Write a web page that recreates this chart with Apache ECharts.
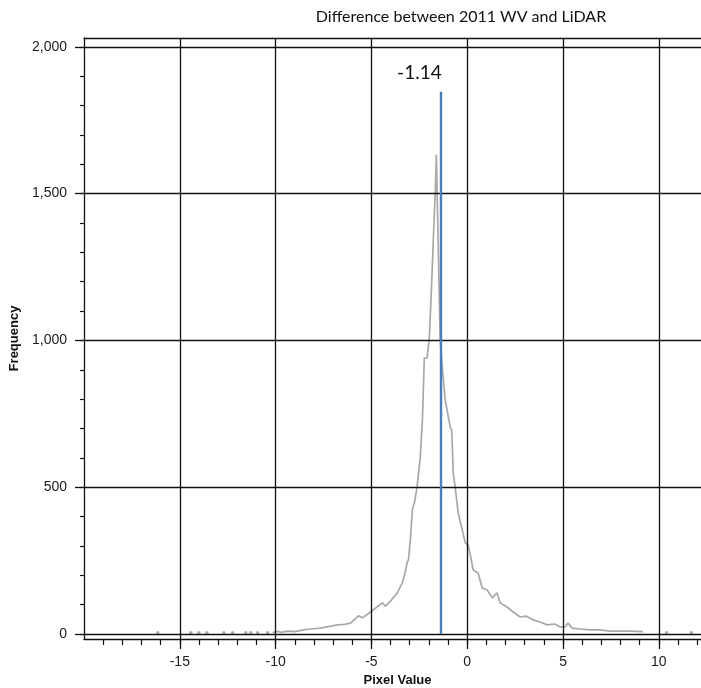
<!DOCTYPE html>
<html>
<head>
<meta charset="utf-8">
<script src="https://cdn.jsdelivr.net/npm/echarts@6/dist/echarts.min.js"></script>
<style>
html,body{margin:0;padding:0;background:#fff;}
#chart{width:701px;height:688px;}
</style>
</head>
<body>
<div id="chart"></div>
<script>
// ---- data ----
const titleText = 'Difference between 2011 WV and LiDAR';
const xAxisName = 'Pixel Value';
const yAxisName = 'Frequency';
const xTickLabels = [-15, -10, -5, 0, 5, 10];
const yTickLabels = [0, 500, 1000, 1500, 2000];
const pixelValues = [-10.16, -9.9, -9.7, -9.38, -9.0, -8.54, -8.2, -7.66, -7.2, -6.77, -6.4, -6.09, -5.68, -5.47, -5.05, -4.43, -4.27, -4.01, -3.65, -3.39, -3.23, -3.13, -3.07, -2.97, -2.86, -2.76, -2.62, -2.45, -2.34, -2.24, -2.10, -1.98, -1.87, -1.77, -1.67, -1.61, -1.51, -1.41, -1.30, -1.15, -0.89, -0.81, -0.73, -0.63, -0.47, -0.26, -0.10, 0.05, 0.16, 0.31, 0.57, 0.78, 1.04, 1.30, 1.56, 1.72, 2.08, 2.40, 2.76, 3.07, 3.44, 3.80, 4.17, 4.58, 4.84, 5.10, 5.26, 5.47, 5.89, 6.41, 6.93, 7.45, 7.97, 8.49, 9.17];
const frequencies = [5, 9, 6, 10, 8, 14, 17, 20, 26, 31, 33, 37, 62, 55, 75, 106, 95, 112, 140, 174, 211, 245, 252, 320, 426, 446, 500, 603, 729, 940, 940, 1005, 1172, 1342, 1503, 1632, 1308, 1002, 906, 797, 705, 695, 549, 500, 412, 354, 310, 303, 269, 218, 208, 157, 150, 123, 140, 106, 92, 75, 58, 61, 48, 41, 31, 34, 24, 24, 37, 20, 17, 14, 14, 10, 10, 10, 8];
const sparsePixelValues = [-16.15, -14.43, -14.01, -13.59, -12.70, -12.24, -11.56, -11.30, -10.94, -10.42, 10.4, 11.7];
const sparseFrequencies = [4, 4, 4, 4, 4, 4, 4, 4, 4, 4, 4, 4];
const meanLineX = -1.4;
const meanLineTop = 1847;
const meanLabel = '-1.14';

// ---- build ----
const xMin = -20, xMax = 12.2, yMin = -17, yMax = 2030;
const minorX = [];
for (let v = -19; v <= 12; v++) minorX.push(v);
const minorY = [];
for (let v = 0; v <= 2000; v += 100) minorY.push(v);

const curve = pixelValues.map((x, i) => [x, frequencies[i]]);
const sparse = sparsePixelValues.map((x, i) => [x, sparseFrequencies[i]]);

const gridLineStyle = {color: '#111', width: 1.3, type: 'solid'};
const gridMarks = [];
yTickLabels.forEach(v => gridMarks.push({yAxis: v}));
xTickLabels.forEach(v => gridMarks.push({xAxis: v}));

const lblFont = {fontFamily: 'Liberation Sans', fontSize: 14, color: '#1a1a1a'};

const chart = echarts.init(document.getElementById('chart'), null, {renderer: 'canvas'});
chart.setOption({
  animation: false,
  backgroundColor: '#fff',
  title: {
    text: titleText, left: 456, top: 4, textAlign: 'center',
    textStyle: {fontFamily: 'Lato', fontSize: 16, fontWeight: 'normal', color: '#111'}
  },
  grid: {left: 84, right: 0, top: 38, bottom: 49, containLabel: false, outerBoundsMode: 'none'},
  xAxis: [
    {
      type: 'value', min: xMin, max: xMax, position: 'bottom',
      name: xAxisName, nameLocation: 'middle', nameGap: 34,
      nameTextStyle: {fontFamily: 'Liberation Sans', fontSize: 13, fontWeight: 'bold', color: '#111', padding: [0, 0, 0, 10]},
      axisLine: {show: true, onZero: false, lineStyle: {color: '#111', width: 1.3}},
      axisTick: {show: true, length: 10, customValues: xTickLabels, lineStyle: {color: '#111', width: 1.3}},
      axisLabel: Object.assign({show: true, margin: 16, customValues: xTickLabels}, lblFont),
      splitLine: {show: false}
    },
    {
      type: 'value', min: xMin, max: xMax, position: 'bottom', offset: 0,
      axisLine: {show: false, onZero: false},
      axisTick: {show: true, length: 6, customValues: minorX, lineStyle: {color: '#111', width: 1.2}},
      axisLabel: {show: false},
      splitLine: {show: false}
    },
    {
      type: 'value', min: xMin, max: xMax, position: 'top',
      axisLine: {show: true, onZero: false, lineStyle: {color: '#111', width: 1.3}},
      axisTick: {show: false}, axisLabel: {show: false}, splitLine: {show: false}
    }
  ],
  yAxis: [
    {
      type: 'value', min: yMin, max: yMax, position: 'left',
      name: yAxisName, nameLocation: 'middle', nameGap: 61, nameRotate: 90,
      nameTextStyle: {fontFamily: 'Liberation Sans', fontSize: 13, fontWeight: 'bold', color: '#111'},
      axisLine: {show: true, onZero: false, lineStyle: {color: '#111', width: 1.3}},
      axisTick: {show: true, length: 9, customValues: yTickLabels, lineStyle: {color: '#111', width: 1.3}},
      axisLabel: Object.assign({show: true, margin: 17, customValues: yTickLabels,
        formatter: v => Number(v).toLocaleString('en-US')}, lblFont),
      splitLine: {show: false}
    },
    {
      type: 'value', min: yMin, max: yMax, position: 'left', offset: 0,
      axisLine: {show: false, onZero: false},
      axisTick: {show: true, length: 4, customValues: minorY, lineStyle: {color: '#111', width: 1.2}},
      axisLabel: {show: false},
      splitLine: {show: false}
    }
  ],
  series: [
    {
      type: 'line', xAxisIndex: 0, yAxisIndex: 0, data: [],
      silent: true,
      markLine: {
        silent: true, symbol: 'none', animation: false,
        lineStyle: gridLineStyle,
        label: {show: false},
        data: gridMarks
      }
    },
    {
      type: 'line', xAxisIndex: 0, yAxisIndex: 0,
      data: curve, showSymbol: false, smooth: false,
      lineStyle: {color: '#a8a8a8', width: 1.7},
      z: 3
    },
    {
      type: 'scatter', xAxisIndex: 0, yAxisIndex: 0,
      data: sparse, symbol: 'circle', symbolSize: 3.5,
      itemStyle: {color: '#999'}, z: 3
    },
    {
      type: 'line', xAxisIndex: 0, yAxisIndex: 0, data: [], z: 4,
      markLine: {
        silent: true, symbol: 'none', animation: false,
        lineStyle: {color: '#4a7ebb', width: 2.4, type: 'solid'},
        label: {
          show: true, position: 'end', formatter: meanLabel, distance: 9,
          offset: [-21, 0],
          fontFamily: 'Lato', fontSize: 19, color: '#111'
        },
        data: [[{coord: [meanLineX, 0]}, {coord: [meanLineX, meanLineTop]}]]
      }
    }
  ]
});
</script>
</body>
</html>
